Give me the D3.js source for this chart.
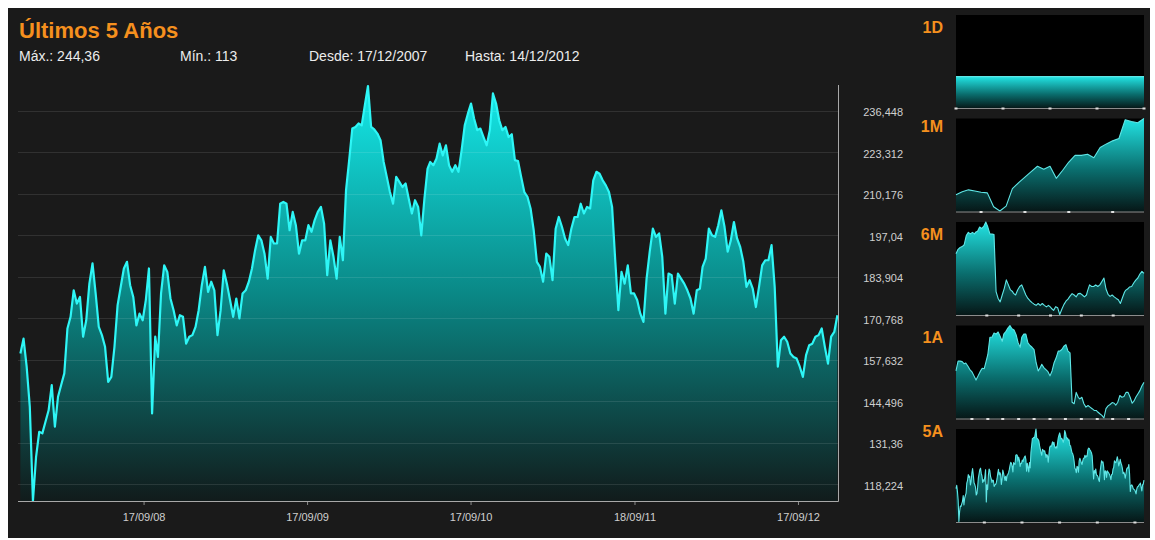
<!DOCTYPE html>
<html><head><meta charset="utf-8">
<script src="https://cdn.jsdelivr.net/npm/d3@7"></script>
<style>
html,body{margin:0;padding:0;background:#ffffff;}
svg{display:block;font-family:"Liberation Sans",Arial,Helvetica,sans-serif;}
</style></head><body>
<svg id="c" width="1155" height="540"></svg>
<script>
// ---------------- DATA ----------------
const title = "Últimos 5 Años";
const headerItems = ["Máx.: 244,36", "Mín.: 113", "Desde: 17/12/2007", "Hasta: 14/12/2012"];
const startDate = "2007-12-17";
const endDate = "2012-12-14";
const yMin = 113, yMax = 244.36;
const yTicks = [118.224, 131.36, 144.496, 157.632, 170.768, 183.904, 197.04, 210.176, 223.312, 236.448];
const xTickDates = ["2008-09-17", "2009-09-17", "2010-09-17", "2011-09-18", "2012-09-17"];
const xTickLabels = ["17/09/08", "17/09/09", "17/09/10", "18/09/11", "17/09/12"];

// weekly closes over the five years (main chart and 5A panel)
const values5A = [
159.7,164.4,155.5,142.8,113.0,127.0,134.9,134.4,138.1,141.7,
149.7,136.5,146.0,149.7,153.4,167.6,171.3,179.7,175.5,177.6,
165.0,170.2,181.8,188.2,178.7,168.1,165.5,161.8,150.7,152.3,
161.8,175.0,180.8,186.6,188.7,181.3,177.6,168.6,172.3,170.2,
176.6,186.6,140.7,165.0,158.6,178.7,187.6,185.5,177.1,173.4,
168.6,171.8,171.3,162.8,165.0,165.5,168.1,173.4,181.3,187.1,
179.2,182.4,179.7,165.5,173.4,186.0,181.8,176.6,171.3,177.1,
170.8,178.7,179.7,182.4,186.6,192.4,197.1,195.5,191.3,183.4,
196.6,194.5,194.5,207.1,207.7,207.1,198.7,204.5,200.3,191.3,
195.5,195.5,200.3,198.2,201.9,204.5,206.1,200.8,184.5,195.5,
190.3,183.4,196.6,189.2,211.4,220.9,230.9,231.4,232.5,231.9,
238.3,244.36,231.4,230.6,229.3,227.2,220.3,215.6,210.8,207.1,
215.6,214.0,212.4,213.5,208.7,204.0,208.2,206.1,197.1,208.7,
218.2,220.3,219.3,221.4,226.1,222.4,225.6,219.3,217.2,219.3,
217.2,224.0,231.9,235.6,238.8,234.0,230.4,230.9,228.2,225.6,
230.4,242.0,238.8,233.5,230.4,231.4,228.2,229.1,220.9,220.6,
215.6,210.8,209.3,205.6,198.7,188.7,187.1,182.4,191.3,190.3,
182.9,199.2,202.9,199.8,196.1,194.0,199.2,202.9,202.9,207.1,
204.0,206.1,205.6,214.5,217.2,216.6,214.5,212.9,210.8,206.1,
189.2,173.4,185.5,181.8,187.6,178.7,178.7,176.6,172.3,169.7,
183.4,191.9,199.2,196.6,197.7,190.3,172.3,185.0,184.5,175.5,
185.0,183.4,181.8,179.7,177.1,172.3,179.7,180.2,187.1,189.7,
199.2,197.1,196.6,200.3,205.0,199.8,191.9,195.5,201.3,196.1,
193.4,188.7,180.8,182.9,180.2,174.4,180.8,187.6,189.2,189.2,
194.0,180.8,155.5,163.9,165.0,163.4,159.7,158.6,158.1,155.5,
152.3,159.2,162.3,162.8,165.0,165.5,167.6,161.8,156.5,165.0,
166.5,171.8];

// 1 year panel
const values1A = [
179.1,184.7,184.7,184.4,183.2,183.6,181.9,179.9,178.6,176.3,
173.9,176.3,178.7,180.6,180.4,183.8,188.5,198.3,198.3,200.7,
200.1,201.3,198.8,196.0,200.1,201.6,203.5,205.0,203.1,202.4,
199.8,195.1,192.6,198.3,200.1,200.1,195.1,193.6,192.6,191.3,
183.8,179.1,181.0,182.9,181.0,179.9,178.7,176.3,179.1,183.8,
186.6,190.4,190.4,191.3,193.2,194.1,190.4,189.4,161.3,160.4,
166.9,164.1,163.2,164.1,160.4,158.5,159.4,158.5,157.6,156.6,
156.6,155.7,154.7,153.8,152.3,157.6,159.2,160.0,161.1,160.7,
159.6,161.3,165.1,164.1,164.5,166.9,166.9,164.1,160.7,162.2,
164.1,166.0,167.9,170.7,172.6];
const start1A = "2011-12-14";
const ticks1A = ["2012-01-14","2012-02-14","2012-03-14","2012-04-14","2012-05-14","2012-06-14",
                 "2012-07-14","2012-08-14","2012-09-14","2012-10-14","2012-11-14"];

// 6 month panel
const values6M = [
179.5,181.4,182.2,182.6,183.4,187.4,188.8,188.1,188.8,188.1,
188.8,189.3,191.1,190.5,191.4,193.3,191.1,188.1,188.1,187.8,
163.0,160.0,158.5,161.5,164.4,168.1,165.9,163.7,163.0,162.2,
161.5,163.7,165.2,165.9,163.7,161.5,160.0,159.0,158.2,157.5,
157.0,157.8,157.0,157.8,157.0,156.3,157.0,156.2,155.6,154.8,
156.4,155.9,153.0,155.3,157.3,158.8,159.7,161.0,162.1,161.5,
160.7,162.1,162.2,161.5,160.7,161.5,163.2,165.9,165.2,165.2,
165.9,165.2,165.9,167.4,168.9,164.1,161.8,160.9,161.5,160.7,
160.0,159.4,157.8,160.3,162.7,163.5,164.1,165.0,165.2,166.7,
168.0,168.9,170.6,171.8,170.9];
const start6M = "2012-06-14";
const ticks6M = ["2012-07-14","2012-08-14","2012-09-14","2012-10-14","2012-11-14"];

// 1 month panel (daily)
const values1M = [159.2,159.7,160.0,159.8,159.6,159.5,157.2,156.5,157.3,160.2,161.2,162.1,163.0,163.9,163.4,
                  163.9,161.9,163.2,164.6,165.7,165.7,165.9,165.3,167.0,167.6,168.1,168.5,171.6,171.3,171.1,171.8];
const start1M = "2012-11-14";
const ticks1M = ["2012-11-18","2012-11-25","2012-12-02","2012-12-09"];

// 1 day panel (hours)
const hours1D = [9, 11, 13, 15, 17];
const values1D = [171.8, 171.8, 171.8, 171.8, 171.8];

// ---------------- DRAW ----------------
const svg = d3.select("#c");
const W = 1155, H = 540;
const parse = d3.utcParse("%Y-%m-%d");
const t0 = parse(startDate), t1 = parse(endDate);

svg.append("rect").attr("width", W).attr("height", H).attr("fill", "#ffffff");
svg.append("rect").attr("x", 8).attr("y", 8).attr("width", 1142).attr("height", 530).attr("fill", "#1a1a1a");

const defs = svg.append("defs");
function grad(id, stops) {
  const g = defs.append("linearGradient").attr("id", id)
    .attr("x1", 0).attr("y1", 0).attr("x2", 0).attr("y2", 1);
  stops.forEach(s => g.append("stop").attr("offset", s[0]).attr("stop-color", s[1]));
}
grad("gMain", [[0, "#14e9e9"], [0.5, "#0a8886"], [1, "#111b1b"]]);
grad("gSmall", [[0, "#22e4e4"], [0.55, "#0a6e6e"], [1, "#061616"]]);

function spread(values, start, end) {
  const n = values.length, span = d3.utcDay.count(start, end);
  return values.map((v, i) => ({date: d3.utcDay.offset(start, Math.round(i * span / (n - 1))), v}));
}

// ---- header ----
svg.append("text").attr("x", 19).attr("y", 38).text(title)
  .attr("fill", "#f5901e").attr("font-size", 22).attr("font-weight", "bold");
const headerX = [19, 180, 309, 465];
headerItems.forEach((t, i) => svg.append("text").attr("x", headerX[i]).attr("y", 61)
  .text(t).attr("fill", "#ececec").attr("font-size", 14));

// ---- main chart ----
const L = 18, R = 838, T = 86, B = 501;
const x = d3.scaleUtc().domain([t0, t1]).range([20.4, 837.4]);
const y = d3.scaleLinear().domain([yMin, yMax]).range([B, T]);
const main = spread(values5A, t0, t1);

svg.append("path").datum(main)
  .attr("d", d3.area().x(d => x(d.date)).y0(B).y1(d => y(d.v)))
  .attr("fill", "url(#gMain)");

const grid = svg.append("g");
grid.selectAll("line").data(yTicks).join("line")
  .attr("x1", L).attr("x2", R).attr("y1", d => Math.round(y(d)) + 0.5).attr("y2", d => Math.round(y(d)) + 0.5)
  .attr("stroke", "#ffffff").attr("stroke-opacity", 0.1);

svg.append("path").datum(main)
  .attr("d", d3.line().x(d => x(d.date)).y(d => y(d.v)))
  .attr("fill", "none").attr("stroke", "#2ef6f6").attr("stroke-width", 2.2).attr("stroke-linejoin", "round");

// axes
const fmtLocale = d3.formatLocale({decimal: ",", thousands: ".", grouping: [3], currency: ["", "€"]});
const fmtY = fmtLocale.format("~f");
const yAxis = svg.append("g").attr("transform", `translate(${R},0)`)
  .call(d3.axisRight(y).tickValues(yTicks).tickSize(0).tickFormat(d => fmtY(+d.toFixed(3))));
yAxis.select(".domain").remove();
yAxis.selectAll("text").attr("x", 65).attr("text-anchor", "end").attr("dy", "0.45em")
  .attr("fill", "#cfcfcf").attr("font-size", 11).attr("font-family", "Liberation Sans, Arial, sans-serif");

const xAxis = svg.append("g").attr("transform", `translate(0,${B})`)
  .call(d3.axisBottom(x).tickValues(xTickDates.map(parse)).tickSize(4).tickPadding(8)
    .tickFormat((d, i) => xTickLabels[i]));
xAxis.select(".domain").remove();
xAxis.selectAll("line").attr("stroke", "#8a8a8a");
xAxis.selectAll("text").attr("fill", "#cfcfcf").attr("font-size", 11)
  .attr("font-family", "Liberation Sans, Arial, sans-serif");

svg.append("line").attr("x1", L).attr("x2", R + 0.5).attr("y1", B + 0.5).attr("y2", B + 0.5)
  .attr("stroke", "#a8a8a8");
svg.append("line").attr("x1", R + 0.5).attr("x2", R + 0.5).attr("y1", T - 1).attr("y2", B + 0.5)
  .attr("stroke", "#a8a8a8");

// ---- small panels ----
const PX0 = 956, PX1 = 1144, PH = 93.5;
const panelTops = [15, 118.5, 222, 325.5, 429];
const labelBase = [33, 132, 240, 343, 437];
const panels = [
  {label: "1D", data: hours1D.map((h, i) => ({date: h, v: values1D[i]})),
   x: d3.scaleLinear().domain([hours1D[0], hours1D[hours1D.length - 1]]), ticks: hours1D},
  {label: "1M", data: spread(values1M, parse(start1M), t1),
   x: d3.scaleUtc().domain([parse(start1M), t1]), ticks: ticks1M.map(parse)},
  {label: "6M", data: spread(values6M, parse(start6M), t1),
   x: d3.scaleUtc().domain([parse(start6M), t1]), ticks: ticks6M.map(parse)},
  {label: "1A", data: spread(values1A, parse(start1A), t1),
   x: d3.scaleUtc().domain([parse(start1A), t1]), ticks: ticks1A.map(parse)},
  {label: "5A", data: main,
   x: d3.scaleUtc().domain([t0, t1]), ticks: xTickDates.map(parse)}
];

panels.forEach((p, k) => {
  const top = panelTops[k], bot = top + PH;
  const g = svg.append("g");
  g.append("rect").attr("x", PX0).attr("y", top).attr("width", PX1 - PX0).attr("height", PH).attr("fill", "#000000");
  p.x.range([PX0, PX1]);
  let ext = d3.extent(p.data, d => d.v);
  if (ext[0] === ext[1]) ext = [ext[0] - 1, ext[1] + 2];
  const py = d3.scaleLinear().domain(ext).range([bot - 1, top]);
  g.append("path").datum(p.data)
    .attr("d", d3.area().x(d => p.x(d.date)).y0(bot).y1(d => py(d.v)))
    .attr("fill", "url(#gSmall)");
  g.append("path").datum(p.data)
    .attr("d", d3.line().x(d => p.x(d.date)).y(d => py(d.v)))
    .attr("fill", "none").attr("stroke", "#5fe6e6").attr("stroke-width", 1.1).attr("stroke-linejoin", "round");
  g.append("line").attr("x1", PX0).attr("x2", PX1).attr("y1", bot).attr("y2", bot)
    .attr("stroke", "#8c8c8c").attr("stroke-width", 1);
  g.selectAll("rect.tk").data(p.ticks).join("rect").attr("class", "tk")
    .attr("x", d => p.x(d) - 1.5).attr("y", bot - 1).attr("width", 3).attr("height", 2)
    .attr("fill", "#e0e0e0");
  svg.append("text").attr("x", 943).attr("y", labelBase[k]).attr("text-anchor", "end")
    .text(p.label).attr("fill", "#f5901e").attr("font-size", 16).attr("font-weight", "bold");
});
</script>
</body></html>
